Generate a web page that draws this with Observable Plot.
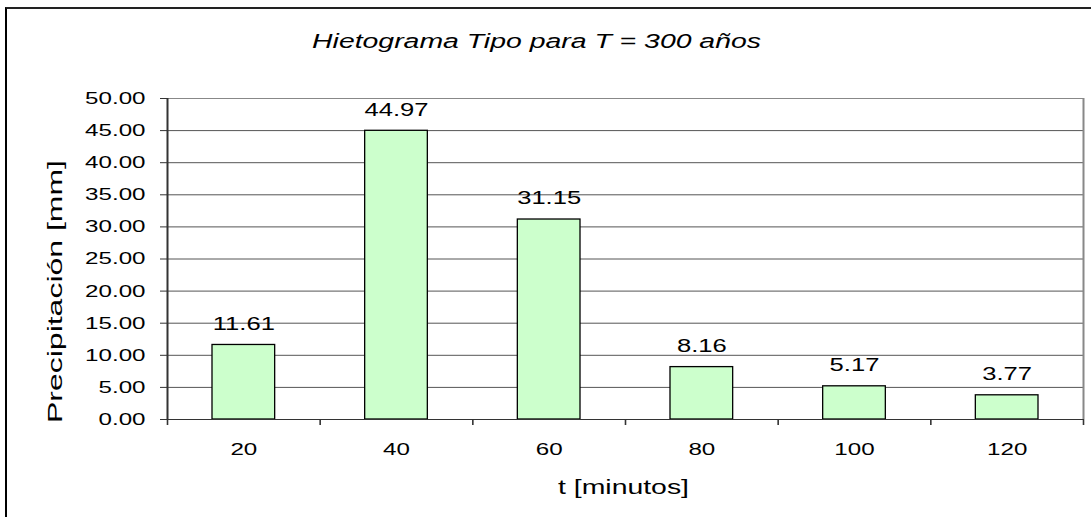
<!DOCTYPE html>
<html>
<head>
<meta charset="utf-8">
<script src="https://cdn.jsdelivr.net/npm/d3@7"></script>
<script src="https://cdn.jsdelivr.net/npm/@observablehq/plot@0.6"></script>
<style>
  html, body { margin: 0; padding: 0; background: #fff; overflow: hidden; }
  #frame { position: absolute; left: 5px; top: 7px; border-left: 2px solid #000; border-top: 2px solid #222; }
  #frame svg { display: block; }
</style>
</head>
<body>
<div id="frame"></div>
<script>
const titleText = "Hietograma Tipo para T = 300 años";
const xLabel = "t [minutos]";
const yLabel = "Precipitación [mm]";
const minutes = [20, 40, 60, 80, 100, 120];
const precip = [11.61, 44.97, 31.15, 8.16, 5.17, 3.77];
const yTicks = [0, 5, 10, 15, 20, 25, 30, 35, 40, 45, 50];
const xBoundaries = [10, 30, 50, 70, 90, 110, 130];

const data = minutes.map((t, i) => ({t, p: precip[i]}));
const STRETCH = 1.42;
const font = "'Liberation Sans', Arial, sans-serif";

const chart = Plot.plot({
  width: 1084,
  height: 508,
  marginLeft: 160,
  marginRight: 8,
  marginTop: 89,
  marginBottom: 98,
  style: {fontFamily: font, background: "#fff", overflow: "visible"},
  x: {domain: [10, 130], label: null},
  y: {domain: [0, 50], label: null},
  marks: [
    Plot.ruleY(yTicks.filter(v => v > 0 && v < 50), {stroke: "#555", strokeWidth: 1}),
    Plot.frame({stroke: "#888", strokeWidth: 1}),
    Plot.ruleX([130], {stroke: "#888", strokeWidth: 2}),
    Plot.rectY(data, {
      x1: d => d.t - 10, x2: d => d.t + 10, y1: 0, y2: "p",
      insetLeft: 45, insetRight: 45,
      fill: "#ccffcc", stroke: "#000", strokeWidth: 1.3
    }),
    Plot.ruleX([10], {stroke: "#333", strokeWidth: 2}),
    Plot.ruleY([0], {stroke: "#333", strokeWidth: 1.2}),
    Plot.axisY({ticks: yTicks, tickFormat: d3.format(".2f"), tickSize: 7, tickPadding: 15,
      fontSize: 17, stroke: "#333", color: "#000", label: null}),
    Plot.axisX({ticks: xBoundaries, tickFormat: () => "", tickSize: 6, stroke: "#333", strokeWidth: 1.6, label: null}),
    Plot.axisX({ticks: minutes, tickSize: 0, tickPadding: 23, fontSize: 17, color: "#000", label: null}),
    Plot.text(data, {x: "t", y: "p", text: d => d.p.toFixed(2), dy: -21, fontSize: 18, fill: "#000"}),
    Plot.text([titleText], {frameAnchor: "top", dx: -89, dy: -65, fontSize: 20, fontStyle: "italic", fill: "#000"}),
    Plot.text([xLabel], {frameAnchor: "bottom", dx: -2, dy: 74, fontSize: 20, fill: "#000"}),
    Plot.text([yLabel], {frameAnchor: "left", dx: -112, dy: 164, rotate: -90, textAnchor: "start", fontSize: 20, fill: "#000"})
  ]
});

document.getElementById("frame").appendChild(chart);

chart.querySelectorAll("text").forEach(t => {
  if (t.textContent === yLabel) {
    t.setAttribute("textLength", 263);
    t.setAttribute("lengthAdjust", "spacingAndGlyphs");
    return;
  }
  const L = t.getComputedTextLength();
  if (L > 0) {
    t.setAttribute("textLength", (L * STRETCH).toFixed(1));
    t.setAttribute("lengthAdjust", "spacingAndGlyphs");
  }
});
</script>
</body>
</html>
